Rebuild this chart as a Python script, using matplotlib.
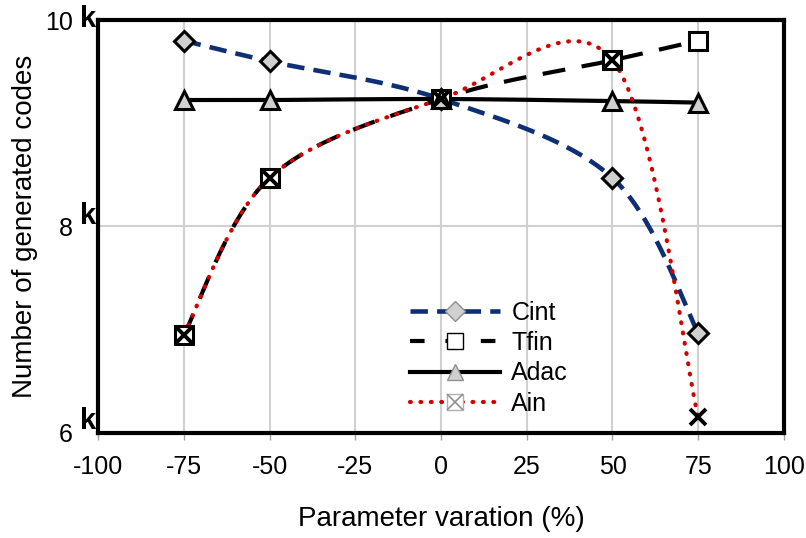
import numpy as np
import matplotlib
matplotlib.use('Agg')
import matplotlib.pyplot as plt
from matplotlib.lines import Line2D
from matplotlib.transforms import blended_transform_factory, ScaledTranslation

plt.rcParams['font.family'] = ['Liberation Sans', 'DejaVu Sans']

# parameter variation (%)
variation = [-75, -50, 0, 50, 75]
# number of generated codes
cint = [9800, 9600, 9235, 8470, 6970]
tfin = [6950, 8470, 9235, 9610, 9800]
adac = [9225, 9225, 9235, 9215, 9200]
ain = [6950, 8470, 9235, 9610, 6150]

xticks = [-100, -75, -50, -25, 0, 25, 50, 75, 100]
yticks = [6000, 8000, 10000]
ytick_labels = ['6', '8', '10']


def smooth(xs, ys, n=60):
    # excel-like smoothed line (bezier through the points)
    p = np.column_stack([xs, ys]).astype(float)
    pts = []
    for i in range(len(p) - 1):
        p0 = p[max(i - 1, 0)]
        p1 = p[i]
        p2 = p[i + 1]
        p3 = p[min(i + 2, len(p) - 1)]
        c1 = p1 + (p2 - p0) / 6.0
        c2 = p2 - (p3 - p1) / 6.0
        t = np.linspace(0, 1, n)[:, None]
        seg = ((1 - t) ** 3) * p1 + 3 * ((1 - t) ** 2) * t * c1 \
            + 3 * (1 - t) * t ** 2 * c2 + t ** 3 * p2
        pts.append(seg if i == 0 else seg[1:])
    pts = np.vstack(pts)
    return pts[:, 0], pts[:, 1]


fig = plt.figure(figsize=(8.06, 5.38), dpi=100)
ax = fig.add_axes([0.1216, 0.1952, 0.8511, 0.7676])

navy = '#0f2f74'
red = '#d40000'
gray = '#d0d0d0'

sx, sy = smooth(variation, cint)
ax.plot(sx, sy, color=navy, lw=3.3, dashes=(3.8, 2.0), zorder=3)
ax.plot(variation, cint, ls='none', marker='D', ms=10, mfc=gray, mec='black',
        mew=2.2, zorder=6)

sx, sy = smooth(variation, tfin)
ax.plot(sx, sy, color='black', lw=3, dashes=(5.5, 4), zorder=3)
ax.plot(variation, tfin, ls='none', marker='s', ms=13, mfc='white',
        mec='black', mew=2.2, zorder=6)

sx, sy = smooth(variation, adac)
ax.plot(sx, sy, color='black', lw=3, zorder=3)
ax.plot(variation, adac, ls='none', marker='^', ms=13, mfc=gray,
        mec='black', mew=2.2, zorder=6)

sx, sy = smooth(variation, ain)
ax.plot(sx, sy, color=red, lw=3, dashes=(0.2, 2.3), dash_capstyle='round',
        zorder=4)
ax.plot(variation, ain, ls='none', marker='x', ms=12, mec='black', mew=2.8,
        zorder=7)

ax.set_xlim(-100, 100)
ax.set_ylim(6000, 10000)
ax.set_xticks(xticks)
ax.set_xticklabels([str(v) for v in xticks])
ax.set_yticks(yticks)
ax.set_yticklabels(ytick_labels)
ax.grid(True, color='#d0d0d0', lw=1.5, zorder=0)
ax.set_axisbelow(True)
ax.tick_params(axis='x', length=5, width=1, color='#a0a0a0', pad=11,
               labelsize=18)
ax.tick_params(axis='y', length=0, pad=18, labelsize=18)
for s in ax.spines.values():
    s.set_linewidth(3)
    s.set_color('black')

# bold "k" next to each y tick
k_shift = {6000: 4, 8000: 2, 10000: -7}
base = blended_transform_factory(ax.transAxes, ax.transData)
for v in yticks:
    trans = base + ScaledTranslation(-2 / 100, k_shift[v] / 100,
                                     fig.dpi_scale_trans)
    ax.text(0, v, 'k', transform=trans, ha='right', va='baseline',
            fontsize=21, fontweight='bold')

ax.set_xlabel('Parameter varation (%)', fontsize=20, labelpad=19)
ax.set_ylabel('Number of generated codes', fontsize=20, labelpad=5)

handles = [
    Line2D([], [], color=navy, lw=3.3, dashes=(3.8, 2.0), marker='D', ms=10,
           mfc=gray, mec='#909090', mew=1),
    Line2D([], [], color='black', lw=3, dashes=(3.5, 5), marker='s', ms=12,
           mfc='white', mec='black', mew=1),
    Line2D([], [], color='black', lw=3, marker='^', ms=12, mfc=gray,
           mec='#909090', mew=1),
    (Line2D([], [], color=red, lw=3, dashes=(0.2, 2.3),
            dash_capstyle='round', marker='s', ms=12, mfc='white',
            mec='#b0b0b0', mew=1),
     Line2D([], [], ls='none', marker='x', ms=12, mec='#909090', mew=1.2)),
]
ax.legend(handles, ['Cint', 'Tfin', 'Adac', 'Ain'], loc='upper left',
          bbox_to_anchor=(0.455, 0.32), frameon=False, fontsize=18,
          handlelength=3.6, handletextpad=0.45, labelspacing=0.25,
          borderaxespad=0, borderpad=0, numpoints=1)

fig.savefig('out.png', dpi=100)
